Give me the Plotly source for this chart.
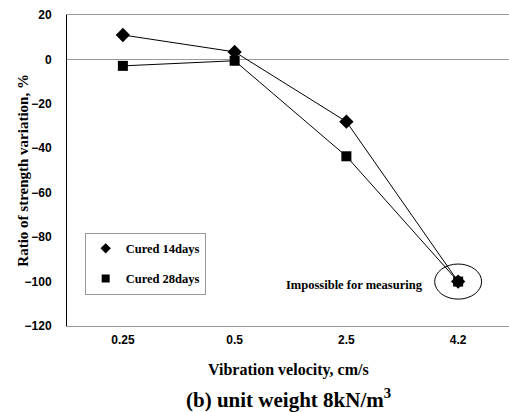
import plotly.graph_objects as go

categories = ["0.25", "0.5", "2.5", "4.2"]
cured14 = [11.0, 3.4, -28.0, -100.0]
cured28 = [-2.9, -0.6, -43.6, -100.0]
y_ticks = [20, 0, -20, -40, -60, -80, -100, -120]
series_names = ["Cured 14days", "Cured 28days"]

serif = "Liberation Serif, Times New Roman, serif"
sans = "Liberation Sans, Arial, sans-serif"
xpos = list(range(len(categories)))

fig = go.Figure()
for name, vals, sym, sz in [(series_names[0], cured14, "diamond", 11),
                            (series_names[1], cured28, "square", 10)]:
    fig.add_trace(go.Scatter(
        x=xpos, y=vals, mode="lines+markers", name=name, showlegend=False,
        line=dict(color="black", width=1),
        marker=dict(symbol=sym, size=sz, color="black")))
# legend entries (markers only, as in the reference)
for i, (name, sym, sz) in enumerate([(series_names[0], "diamond", 8),
                                     (series_names[1], "square", 8)]):
    fig.add_trace(go.Scatter(
        x=[None], y=[None], mode="markers", name=name, legendgroup=f"g{i}",
        marker=dict(symbol=sym, size=sz, color="black")))

# ellipse around the unmeasurable point
fig.add_shape(type="circle", xref="x", yref="y",
              x0=3 - 0.21, x1=3 + 0.21, y0=cured28[3] - 7.9, y1=cured28[3] + 7.9,
              line=dict(color="black", width=1))

fig.add_annotation(x=3 - 0.30, y=cured28[3] - 1.5, xref="x", yref="y",
                   text="<b>Impossible for measuring</b>", showarrow=False,
                   xanchor="right", font=dict(family=serif, size=12.5, color="black"))

# axis titles
fig.add_annotation(x=-0.124, y=0.5, xref="paper", yref="paper",
                   text="<b>Ratio of strength variation, %</b>", textangle=-90,
                   showarrow=False, font=dict(family=serif, size=15, color="black"))
fig.add_annotation(x=0.5, y=-0.143, xref="paper", yref="paper", yanchor="middle",
                   text="<b>Vibration velocity, cm/s</b>", showarrow=False,
                   font=dict(family=serif, size=16, color="black"))
fig.add_annotation(x=0.5, y=-0.232, xref="paper", yref="paper", yanchor="middle",
                   text="<b>(b) unit weight 8kN/m<sup>3</sup></b>", showarrow=False,
                   font=dict(family=serif, size=21, color="black"))

fig.update_layout(
    width=509, height=412,
    margin=dict(l=67, r=0, t=15, b=86, autoexpand=False),
    paper_bgcolor="white", plot_bgcolor="white",
    showlegend=True,
    legend=dict(x=0.04, y=0.30, xanchor="left", yanchor="top",
                bordercolor="#999999", borderwidth=1, bgcolor="white",
                font=dict(family=serif, size=12.5, color="black", weight="bold"),
                traceorder="grouped", tracegroupgap=11, itemwidth=30),
    xaxis=dict(range=[-0.5, 3.455], tickmode="array",
               tickvals=xpos, ticktext=categories, automargin=False,
               showgrid=False, zeroline=False,
               showline=True, linecolor="#999999", linewidth=1, mirror=True,
               ticks="", ticklabelstandoff=3,
               tickfont=dict(family=sans, size=12, color="black", weight="bold")),
    yaxis=dict(range=[-120, 20], tickmode="array", tickvals=y_ticks, automargin=False,
               showgrid=False, zeroline=True, zerolinecolor="#999999", zerolinewidth=1,
               showline=True, linecolor="black", linewidth=1, mirror=False,
               ticks="", ticklabelstandoff=12,
               tickfont=dict(family=sans, size=12, color="black", weight="bold")),
)

fig.write_html("out.html", config={"displayModeBar": False},
               post_script="document.body.style.margin='0';document.body.style.overflow='hidden';")
